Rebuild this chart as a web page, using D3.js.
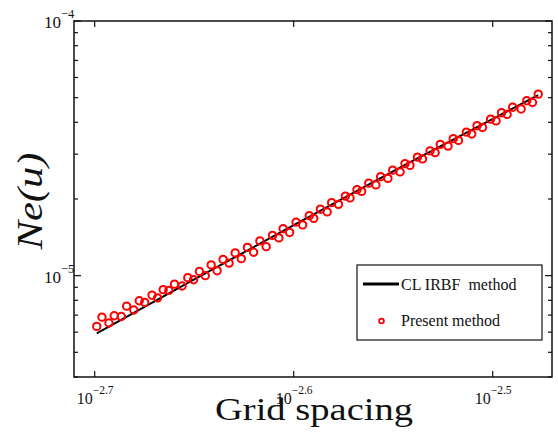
<!DOCTYPE html>
<html>
<head>
<meta charset="utf-8">
<script src="https://cdn.jsdelivr.net/npm/d3@7"></script>
<style>
  body { margin: 0; background: #fff; }
  svg text { font-family: "Liberation Serif", "Times New Roman", serif; fill: #111; }
</style>
</head>
<body>
<svg width="558" height="434"></svg>
<script>
// grid sizes N (spacing h = 1/N)
var gridN = [500,497,493,490,486,483,479,476,473,469,466,463,460,457,453,450,447,444,441,438,
             435,432,429,426,423,420,417,414,411,408,405,403,400,397,394,391,389,386,383,381,
             378,375,373,370,368,365,362,360,357,355,352,350,348,345,343,340,338,336,333,331,
             329,326,324,322,320,317,315,313,311,309,306,304,302,300];

// Present method, Ne(u)
var presentNe = [6.32e-6,6.87e-6,6.52e-6,6.96e-6,6.91e-6,7.59e-6,7.33e-6,7.97e-6,7.85e-6,8.38e-6,
                 8.18e-6,8.81e-6,8.75e-6,9.26e-6,9.11e-6,9.82e-6,9.64e-6,1.039e-5,1.00e-5,1.102e-5,
                 1.046e-5,1.158e-5,1.120e-5,1.228e-5,1.166e-5,1.291e-5,1.236e-5,1.369e-5,1.300e-5,1.439e-5,
                 1.407e-5,1.529e-5,1.478e-5,1.622e-5,1.582e-5,1.720e-5,1.678e-5,1.824e-5,1.780e-5,1.935e-5,
                 1.905e-5,2.052e-5,2.020e-5,2.176e-5,2.142e-5,2.308e-5,2.272e-5,2.448e-5,2.409e-5,2.596e-5,
                 2.555e-5,2.754e-5,2.710e-5,2.920e-5,2.874e-5,3.090e-5,3.041e-5,3.278e-5,3.227e-5,3.451e-5,
                 3.397e-5,3.660e-5,3.602e-5,3.881e-5,3.820e-5,4.117e-5,4.052e-5,4.365e-5,4.297e-5,4.587e-5,
                 4.515e-5,4.865e-5,4.788e-5,5.160e-5];

// CL IRBF method (solid line)
var irbfN = [500, 450, 400, 350, 300];
var irbfNe = [5.93e-6, 9.36e-6, 1.546e-5, 2.720e-5, 5.12e-5];

var xTickExps = [-2.7, -2.6, -2.5];
var yTickExps = [-5, -4];
var legendLabels = ["CL IRBF  method", "Present method"];

var svg = d3.select("svg");
var plotL = 74, plotR = 552, plotT = 21, plotB = 377;

var x = d3.scaleLog().domain([Math.pow(10, -2.7104), Math.pow(10, -2.4702)]).range([plotL, plotR]);
var y = d3.scaleLog().domain([Math.pow(10, -5.398), 1e-4]).range([plotB, plotT]);

svg.append("rect").attr("width", 558).attr("height", 434).attr("fill", "#fff");

// ticks, inward on all four sides
var yMinor = [];
[1e-6, 1e-5].forEach(function(dec){
  for(var k = 2; k <= 9; k++){
    var v = k * dec;
    if(v >= y.domain()[0] * 0.999 && v < 1e-4) yMinor.push(v);
  }
});
var g = svg.append("g").attr("stroke", "#111").attr("stroke-width", 1.2);
yMinor.forEach(function(v){
  g.append("line").attr("x1", plotL).attr("x2", plotL + 4).attr("y1", y(v)).attr("y2", y(v));
  g.append("line").attr("x1", plotR).attr("x2", plotR - 4).attr("y1", y(v)).attr("y2", y(v));
});
yTickExps.forEach(function(e){
  var v = Math.pow(10, e);
  g.append("line").attr("x1", plotL).attr("x2", plotL + 7).attr("y1", y(v)).attr("y2", y(v));
  g.append("line").attr("x1", plotR).attr("x2", plotR - 7).attr("y1", y(v)).attr("y2", y(v));
});
xTickExps.forEach(function(e){
  var v = Math.pow(10, e);
  g.append("line").attr("x1", x(v)).attr("x2", x(v)).attr("y1", plotB).attr("y2", plotB - 6);
  g.append("line").attr("x1", x(v)).attr("x2", x(v)).attr("y1", plotT).attr("y2", plotT + 6);
});

// frame
svg.append("rect").attr("x", plotL).attr("y", plotT).attr("width", plotR - plotL).attr("height", plotB - plotT)
  .attr("fill", "none").attr("stroke", "#111").attr("stroke-width", 1.5);

// tick labels
xTickExps.forEach(function(e){
  var t = svg.append("text").attr("x", x(Math.pow(10, e)) - 18).attr("y", 404).style("font-size", "16px");
  t.append("tspan").text("10");
  t.append("tspan").attr("dy", -10).style("font-size", "11.5px").text("\u2212" + Math.abs(e).toFixed(1));
});
yTickExps.forEach(function(e){
  var t = svg.append("text").attr("x", 44).attr("y", y(Math.pow(10, e)) + 7).style("font-size", "17px");
  t.append("tspan").text("10");
  t.append("tspan").attr("dy", -10).style("font-size", "12.5px").text("\u2212" + Math.abs(e));
});

// CL IRBF line
var line = d3.line()
  .x(function(d, i){ return x(1 / irbfN[i]); })
  .y(function(d){ return y(d); });
svg.append("path").datum(irbfNe).attr("d", line)
  .attr("fill", "none").attr("stroke", "#000").attr("stroke-width", 2);

// present method circles
svg.append("g").selectAll("circle").data(presentNe).enter().append("circle")
  .attr("cx", function(d, i){ return x(1 / gridN[i]); })
  .attr("cy", function(d){ return y(d); })
  .attr("r", 3.7)
  .attr("fill", "none").attr("stroke", "#ff0000").attr("stroke-width", 2);

// axis titles
svg.append("text").attr("x", 314).attr("y", 420).attr("text-anchor", "middle")
  .attr("textLength", 198).attr("lengthAdjust", "spacingAndGlyphs")
  .style("font-size", "31px").text("Grid spacing");
svg.append("text").attr("transform", "translate(42,201) rotate(-90)").attr("text-anchor", "middle")
  .attr("textLength", 97).attr("lengthAdjust", "spacingAndGlyphs")
  .style("font-size", "36px").style("font-style", "italic").text("Ne(u)");

// legend
var lg = svg.append("g");
lg.append("rect").attr("x", 357).attr("y", 265).attr("width", 185).attr("height", 75)
  .attr("fill", "#fff").attr("stroke", "#111").attr("stroke-width", 1.2);
lg.append("line").attr("x1", 363).attr("x2", 399).attr("y1", 284).attr("y2", 284)
  .attr("stroke", "#000").attr("stroke-width", 3);
lg.append("circle").attr("cx", 381.5).attr("cy", 321).attr("r", 2.4)
  .attr("fill", "none").attr("stroke", "#ff0000").attr("stroke-width", 1.8);
legendLabels.forEach(function(s, i){
  lg.append("text").attr("x", 401).attr("y", i === 0 ? 290 : 326)
    .attr("xml:space", "preserve").style("white-space", "pre")
    .style("font-size", "16px").text(s);
});
</script>
</body>
</html>
